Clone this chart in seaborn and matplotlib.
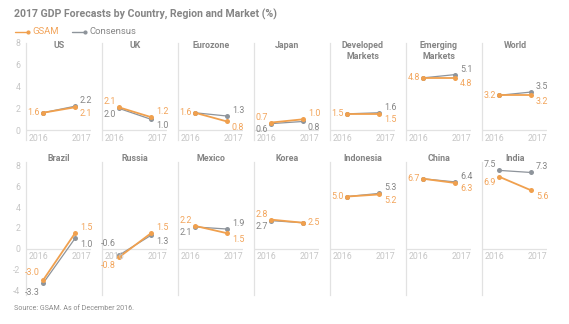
import numpy as np
import pandas as pd
import matplotlib
matplotlib.use("Agg")
import matplotlib.pyplot as plt
import seaborn as sns
from matplotlib.lines import Line2D

# ---- data -------------------------------------------------------------
regions = ["US", "UK", "Eurozone", "Japan", "Developed\nMarkets", "Emerging\nMarkets", "World",
           "Brazil", "Russia", "Mexico", "Korea", "Indonesia", "China", "India"]
years = [2016, 2017]
gsam_2016 = [1.6, 2.1, 1.6, 0.7, 1.5, 4.8, 3.2, -3.0, -0.8, 2.2, 2.8, 5.0, 6.7, 6.9]
gsam_2017 = [2.1, 1.2, 0.8, 1.0, 1.5, 4.8, 3.2, 1.5, 1.5, 1.5, 2.5, 5.2, 6.3, 5.6]
cons_2016 = [1.6, 2.0, 1.6, 0.6, 1.5, 4.8, 3.2, -3.3, -0.6, 2.1, 2.7, 5.0, 6.7, 7.5]
cons_2017 = [2.2, 1.0, 1.3, 0.8, 1.6, 5.1, 3.5, 1.0, 1.3, 1.9, 2.5, 5.3, 6.4, 7.3]
top_ticks = [0, 2, 4, 6, 8]
bottom_ticks = [-4, -2, 0, 2, 4, 6, 8]

rows = []
for i, reg in enumerate(regions):
    for j, yr in enumerate(years):
        rows.append({"region": reg, "year": yr, "pos": j, "series": "GSAM",
                     "value": [gsam_2016, gsam_2017][j][i]})
        rows.append({"region": reg, "year": yr, "pos": j, "series": "Consensus",
                     "value": [cons_2016, cons_2017][j][i]})
df = pd.DataFrame(rows)

# ---- style ------------------------------------------------------------
sns.set_theme(style="white")
plt.rcParams["font.family"] = ["Roboto", "DejaVu Sans"]

ORANGE = "#F0A04E"
ORANGE_TXT = "#F2A45A"
GREY = "#8E949B"
GREY_TXT = "#858585"
TITLE_C = "#858585"
LIGHT = "#C6C6C6"
RULE = "#E2E2E2"
palette = {"GSAM": ORANGE, "Consensus": GREY}

# vertical label offsets (pixels) for (upper, lower) label where the default
# would collide with the zero line or year labels
label_nudge = {("Brazil", 0): (7.5, -9), ("Russia", 0): (12, -8)}

W, H = 569, 324
fig = plt.figure(figsize=(W / 100, H / 100), dpi=100)
fig.patch.set_facecolor("white")


def px_axes(left, top, width, height):
    return fig.add_axes([left / W, 1 - (top + height) / H, width / W, height / H])


def fig_text(x, y, s, **kw):
    fig.text(x / W, 1 - y / H, s, **kw)


row_specs = [
    dict(top=43, height=97, ylim=(-0.9, 8.0), ticks=top_ticks, title_y=41),
    dict(top=162, height=133, ylim=(-4.4, 8.3), ticks=bottom_ticks, title_y=154),
]

for i, reg in enumerate(regions):
    r, c = divmod(i, 7)
    spec = row_specs[r]
    left = 26 + 76 * c
    ax = px_axes(left, spec["top"], 65, spec["height"])
    sub = df[df["region"] == reg]

    for name, lw in [("Consensus", 0.9), ("GSAM", 1.3)]:
        sns.lineplot(data=sub[sub["series"] == name], x="pos", y="value",
                     color=palette[name], lw=lw, marker="o", markersize=3.6,
                     markeredgewidth=0, ax=ax, legend=False)

    ax.set_xlim(-0.53, 1.5)
    ax.set_ylim(*spec["ylim"])
    ax.axhline(0, color=RULE, lw=0.9, zorder=0)
    for s in ["top", "right", "bottom"]:
        ax.spines[s].set_visible(False)
    ax.spines["left"].set_color(RULE)
    ax.spines["left"].set_linewidth(0.9)
    ax.set_xticks([])
    ax.set_xlabel("")
    ax.set_ylabel("")
    ax.patch.set_alpha(0)
    if c == 0:
        ax.set_yticks(spec["ticks"])
        ax.set_yticklabels([str(t) for t in spec["ticks"]])
        ax.tick_params(axis="y", length=0, pad=4, labelsize=6.3, labelcolor=LIGHT)
    else:
        ax.set_yticks([])

    # year labels under the zero line
    ax.annotate(str(years[0]), xy=(-0.45, 0), xytext=(0, -8), textcoords="offset pixels",
                ha="left", va="center", fontsize=6.3, color=LIGHT)
    ax.annotate(str(years[1]), xy=(1.5, 0), xytext=(0, -8), textcoords="offset pixels",
                ha="right", va="center", fontsize=6.3, color=LIGHT)

    # value labels
    name_key = reg.replace("\n", " ")
    for j in range(2):
        g = [gsam_2016, gsam_2017][j][i]
        k = [cons_2016, cons_2017][j][i]
        dx = -3 if j == 0 else 5
        ha = "right" if j == 0 else "left"
        up, down = label_nudge.get((name_key, j), (5.5, -6))
        if g == k:
            items = [(g, ORANGE_TXT, 0)]
        elif g > k:
            items = [(g, ORANGE_TXT, up), (k, GREY_TXT, down)]
        else:
            items = [(k, GREY_TXT, up), (g, ORANGE_TXT, down)]
        for v, col, dy in items:
            ax.annotate(f"{v:.1f}", xy=(j, v), xytext=(dx, dy), textcoords="offset pixels",
                        ha=ha, va="center", fontsize=6.4, color=col)

    fig_text(left + 33, spec["title_y"], reg, ha="center", va="top", fontsize=6.4,
             fontweight="bold", color=TITLE_C, linespacing=1.25)

# ---- title, legend, source ---------------------------------------------
fig_text(14, 14, "2017 GDP Forecasts by Country, Region and Market (%)", ha="left",
         va="center", fontsize=7.6, fontweight="bold", color=TITLE_C)

for x0, name, col, tcol in [(15, "GSAM", ORANGE, ORANGE_TXT), (72, "Consensus", GREY, GREY_TXT)]:
    fig.add_artist(Line2D([x0 / W, (x0 + 13) / W], [1 - 32 / H, 1 - 32 / H], color=col,
                          lw=1.0, marker="o", markersize=2, markevery=[1],
                          transform=fig.transFigure))
    fig_text(x0 + 17, 32, name, ha="left", va="center", fontsize=6.8, color=tcol)

fig_text(14, 308, "Source: GSAM. As of December 2016.", ha="left", va="center",
         fontsize=5.1, color="#8a8a8a")

fig.savefig("out.png", dpi=100)
